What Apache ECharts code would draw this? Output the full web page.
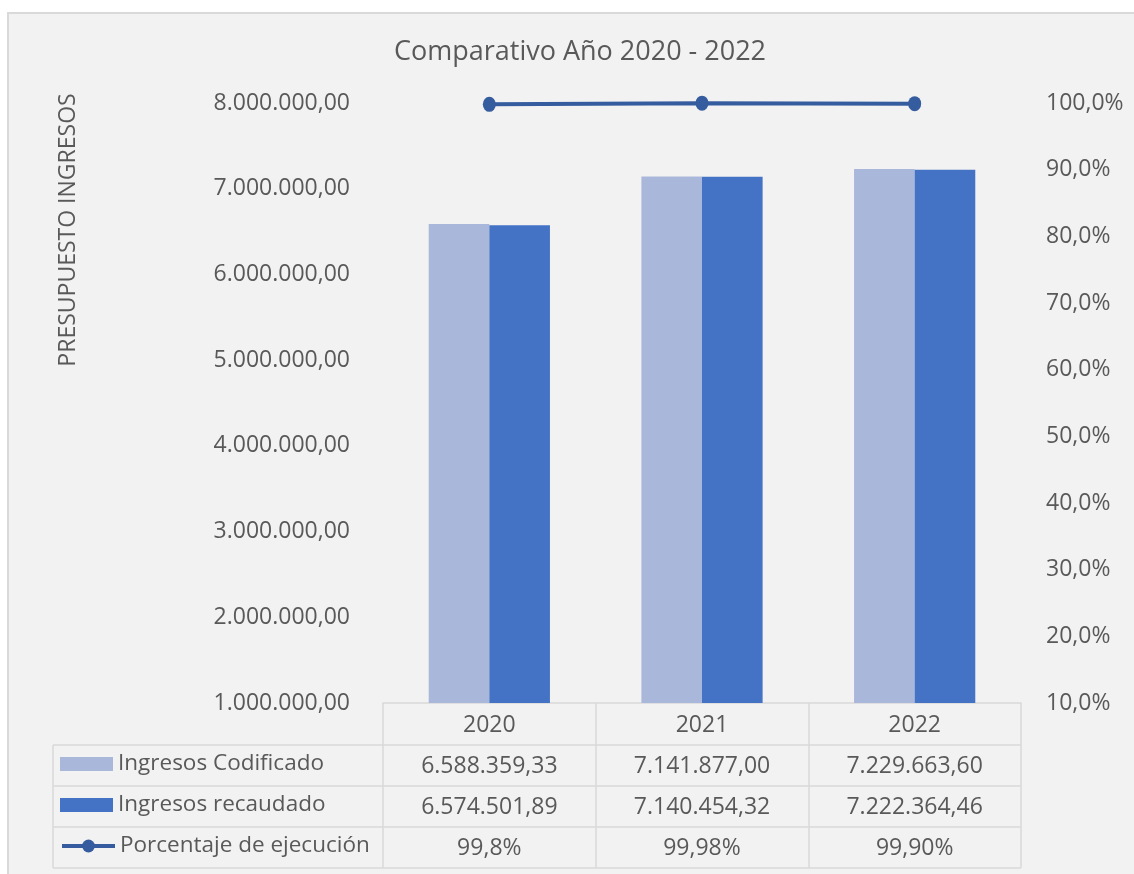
<!DOCTYPE html>
<html>
<head>
<meta charset="utf-8">
<script src="https://cdn.jsdelivr.net/npm/echarts@6/dist/echarts.min.js"></script>
<style>
  html, body { margin: 0; padding: 0; background: #ffffff; overflow: hidden; }
  #frame { position: absolute; left: 7px; top: 12px; width: 1140px; height: 880px;
           background: #f2f2f2; border: 2px solid #d9d9d9; box-sizing: border-box; }
  #c { position: absolute; left: 0; top: 0; width: 1134px; height: 874px; }
</style>
</head>
<body>
<div id="frame"></div>
<div id="c"></div>
<script>
const categories = ['2020', '2021', '2022'];
const codificado = [6588359.33, 7141877.00, 7229663.60];
const recaudado = [6574501.89, 7140454.32, 7222364.46];
const porcentaje = [99.8, 99.98, 99.90];
const porcentajeLabels = ['99,8%', '99,98%', '99,90%'];
const seriesNames = ['Ingresos Codificado', 'Ingresos recaudado', 'Porcentaje de ejecución'];

function fmtNum(v, dec) {
  const s = v.toFixed(dec);
  const parts = s.split('.');
  const int = parts[0].replace(/\B(?=(\d{3})+(?!\d))/g, '.');
  return parts.length > 1 ? int + ',' + parts[1] : int;
}

const FONT = '"Open Sans", "Noto Sans", sans-serif';
const TXT = '#595959';
const LINE = '#d9d9d9';
const FS = 23;
const gridL = 383, gridR = 1021, gridT = 103, gridB = 703;
const rowH = 41;
const tableLeft = 53;
const rowTops = [745, 786, 827, 868];
const lineColor = '#355c9f';

const chart = echarts.init(document.getElementById('c'), null, { renderer: 'canvas' });

const hLines = rowTops.map(y => ({
  type: 'line', silent: true,
  shape: { x1: tableLeft, y1: y, x2: gridR, y2: y },
  style: { stroke: LINE, lineWidth: 1.5 }
}));

const option = {
  backgroundColor: 'transparent',
  animation: false,
  textStyle: { fontFamily: FONT },
  title: {
    text: 'Comparativo Año 2020 - 2022',
    left: 575, top: 34, textAlign: 'center',
    textStyle: { fontFamily: FONT, fontSize: 27, fontWeight: 'normal', color: TXT }
  },
  legend: [0, 1, 2].map(i => ({
    data: [{ name: seriesNames[i], icon: i < 2 ? 'rect' : undefined }],
    left: 60, top: 751 + i * rowH, padding: 0,
    itemWidth: 53, itemHeight: i < 2 ? 14 : 16, itemGap: 6,
    selectedMode: false,
    lineStyle: { width: 4 },
    textStyle: { fontFamily: FONT, fontSize: 22.5, color: TXT, lineHeight: 26 }
  })),
  grid: { left: gridL, right: 1134 - gridR, top: gridT, bottom: 874 - gridB, containLabel: false },
  xAxis: {
    type: 'category',
    data: categories,
    boundaryGap: true,
    axisLine: { show: true, lineStyle: { color: LINE, width: 1.5 } },
    axisTick: { show: true, alignWithLabel: false, length: 165, lineStyle: { color: LINE, width: 1.5 } },
    axisLabel: {
      interval: 0, margin: 2,
      fontFamily: FONT, fontSize: FS, color: TXT, lineHeight: rowH,
      formatter: (val, idx) => [val, fmtNum(codificado[idx], 2), fmtNum(recaudado[idx], 2), porcentajeLabels[idx]].join('\n')
    },
    splitLine: { show: false }
  },
  yAxis: [
    {
      type: 'value', min: 1000000, max: 8000000, interval: 1000000,
      axisLine: { show: false }, axisTick: { show: false }, splitLine: { show: false },
      axisLabel: { margin: 33, fontFamily: FONT, fontSize: FS, color: TXT, formatter: v => fmtNum(v, 2) }
    },
    {
      type: 'value', min: 10, max: 100, interval: 10, position: 'right',
      axisLine: { show: false }, axisTick: { show: false }, splitLine: { show: false },
      axisLabel: { margin: 25, fontFamily: FONT, fontSize: FS, color: TXT, formatter: v => fmtNum(v, 1) + '%' }
    }
  ],
  series: [
    {
      name: seriesNames[0], type: 'bar', data: codificado,
      barGap: '0%', barCategoryGap: '43%',
      itemStyle: { color: '#a9b7db' }
    },
    {
      name: seriesNames[1], type: 'bar', data: recaudado,
      barGap: '0%', barCategoryGap: '43%',
      itemStyle: { color: '#4472c4' }
    },
    {
      name: seriesNames[2], type: 'line', data: porcentaje, yAxisIndex: 1,
      symbol: 'circle', symbolSize: [13, 15],
      lineStyle: { color: lineColor, width: 4 },
      itemStyle: { color: lineColor }
    }
  ],
  graphic: [
    {
      type: 'text', silent: true, x: 68, y: 230, rotation: Math.PI / 2,
      style: { text: 'PRESUPUESTO INGRESOS', fill: TXT, font: FS + 'px ' + FONT, align: 'center', verticalAlign: 'middle' }
    },
    {
      type: 'line', silent: true,
      shape: { x1: tableLeft, y1: rowTops[0], x2: tableLeft, y2: rowTops[3] },
      style: { stroke: LINE, lineWidth: 1.5 }
    }
  ].concat(hLines)
};

chart.setOption(option);
</script>
</body>
</html>
